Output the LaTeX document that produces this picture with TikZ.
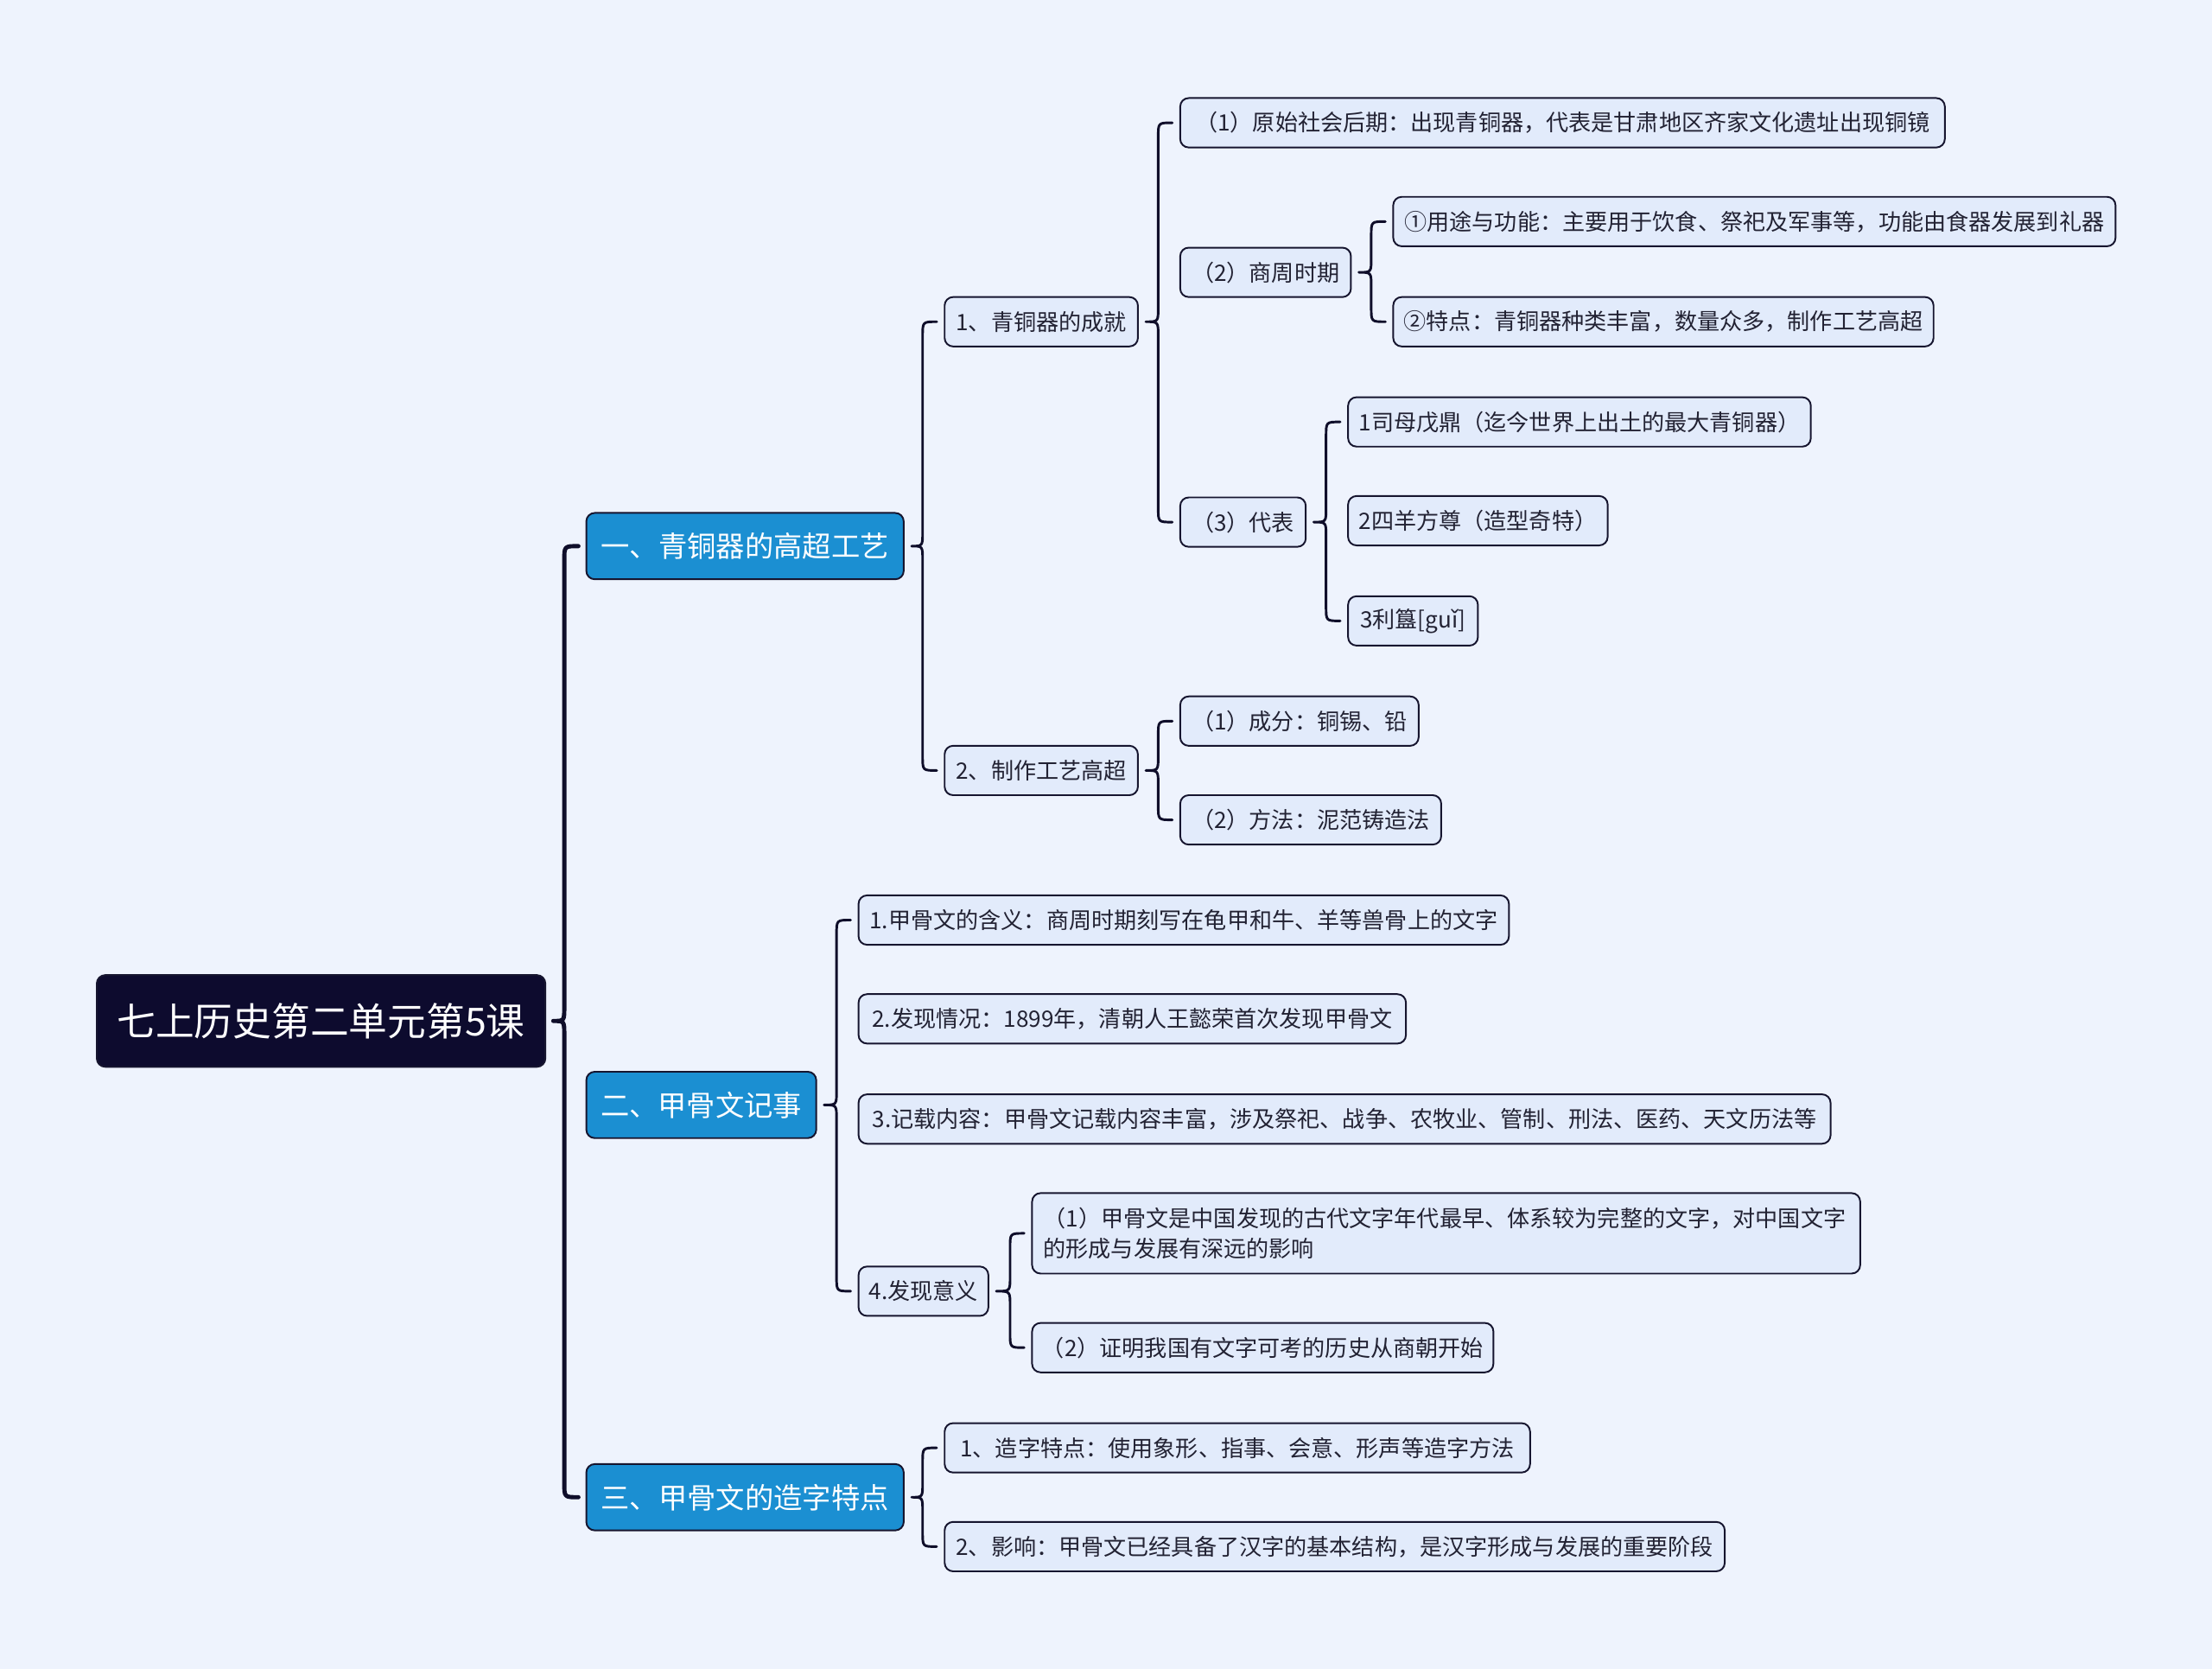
\documentclass[tikz,border=0pt]{standalone}
\usepackage{fontspec}
\newfontfamily\cjk{Noto Sans CJK SC}
\usetikzlibrary{calc}
\definecolor{bgc}{HTML}{EEF3FD}
\definecolor{leafc}{HTML}{E2EBFB}
\definecolor{bordc}{HTML}{16152F}
\definecolor{lvlc}{HTML}{1B8FD2}
\definecolor{rootc}{HTML}{0D0B2E}
\definecolor{linec}{HTML}{0F0E2A}
\definecolor{textc}{HTML}{222233}
\newcommand\mybrace[4][]{%
  \coordinate (bv) at ($(#3.west)+(-15,0)$);
  \coordinate (bm) at (bv |- #2.east);
  \coordinate (bb) at (bv |- #4.west);
  \draw[conn,#1] ($(#3.west)+(-5,0)$) .. controls (bv) .. ($(bv)+(0,10)$)
    -- ($(bm)+(0,-10)$) .. controls (bm) .. ($(#2.east)+(5,0)$)
    .. controls (bm) .. ($(bm)+(0,10)$)
    -- ($(bb)+(0,-10)$) .. controls (bb) .. ($(#4.west)+(-5,0)$);
}
\begin{document}
\begin{tikzpicture}[x=0.5pt,y=-0.5pt,
  box/.style={draw=bordc, line width=0.6pt, rounded corners=3pt, anchor=west, inner xsep=3pt, inner ysep=0pt},
  leaf/.style={box, fill=leafc, text=textc, font=\cjk\fontsize{8}{10.5}\selectfont, minimum height=17.5pt},
  lvl/.style={box, fill=lvlc, text=white, font=\cjk\fontsize{10.2}{12}\selectfont, minimum height=23.5pt},
  rootn/.style={box, fill=rootc, text=white, font=\cjk\fontsize{13.7}{16}\selectfont, minimum height=32.5pt},
  conn/.style={draw=linec, line width=0.9pt, line cap=round, line join=round},
]
\fill[bgc] (0,0) rectangle (1568,1182.7);
\useasboundingbox (0,0) rectangle (1568,1182.7);

% root and level 1
\node[rootn, minimum width=159pt] (root) at (68,723.5) {七上历史第二单元第5课};
\node[lvl, minimum width=112.5pt] (A) at (415,387) {一、青铜器的高超工艺};
\node[lvl, minimum width=81.5pt] (B) at (415,783) {二、甲骨文记事};
\node[lvl, minimum width=112.5pt] (C) at (415,1061) {三、甲骨文的造字特点};

% A branch
\node[leaf, minimum width=68.5pt] (A1) at (669,228) {1、青铜器的成就};
\node[leaf, minimum width=68.5pt] (A2) at (669,546) {2、制作工艺高超};
\node[leaf, minimum width=271pt] (A1a) at (836,87) {（1）原始社会后期：出现青铜器，代表是甘肃地区齐家文化遗址出现铜镜};
\node[leaf, minimum width=60.5pt] (A1b) at (836,193) {（2）商周时期};
\node[leaf, minimum width=44.5pt] (A1c) at (836,370) {（3）代表};
\node[leaf, minimum width=256pt] (A1b1) at (987,157) {①用途与功能：主要用于饮食、祭祀及军事等，功能由食器发展到礼器};
\node[leaf, minimum width=191.5pt] (A1b2) at (987,228) {②特点：青铜器种类丰富，数量众多，制作工艺高超};
\node[leaf, minimum width=164pt] (A1c1) at (955,299) {1司母戊鼎（迄今世界上出土的最大青铜器）};
\node[leaf, minimum width=92pt] (A1c2) at (955,369) {2四羊方尊（造型奇特）};
\node[leaf, minimum width=46pt] (A1c3) at (955,440) {3利簋[guǐ]};
\node[leaf, minimum width=84.5pt] (A2a) at (836,511) {（1）成分：铜锡、铅};
\node[leaf, minimum width=92.5pt] (A2b) at (836,581) {（2）方法：泥范铸造法};

% B branch
\node[leaf, minimum width=230.5pt] (B1) at (608,652) {1.甲骨文的含义：商周时期刻写在龟甲和牛、羊等兽骨上的文字};
\node[leaf, minimum width=194pt] (B2) at (608,722) {2.发现情况：1899年，清朝人王懿荣首次发现甲骨文};
\node[leaf, minimum width=344.5pt] (B3) at (608,793) {3.记载内容：甲骨文记载内容丰富，涉及祭祀、战争、农牧业、管制、刑法、医药、天文历法等};
\node[leaf, minimum width=46pt] (B4) at (608,915) {4.发现意义};
\node[leaf, text width=285.5pt, inner xsep=4pt, align=left, minimum height=28.5pt] (B4a) at (731,874) {（1）甲骨文是中国发现的古代文字年代最早、体系较为完整的文字，对中国文字\\的形成与发展有深远的影响};
\node[leaf, minimum width=163.5pt] (B4b) at (731,955) {（2）证明我国有文字可考的历史从商朝开始};

% C branch
\node[leaf, minimum width=207.5pt] (C1) at (669,1026) {1、造字特点：使用象形、指事、会意、形声等造字方法};
\node[leaf, minimum width=276.5pt] (C2) at (669,1096) {2、影响：甲骨文已经具备了汉字的基本结构，是汉字形成与发展的重要阶段};

% braces
\mybrace[line width=1.5pt]{root}{A}{C}
\mybrace{A}{A1}{A2}
\mybrace{A1}{A1a}{A1c}
\mybrace{A1b}{A1b1}{A1b2}
\mybrace{A1c}{A1c1}{A1c3}
\mybrace{A2}{A2a}{A2b}
\mybrace{B}{B1}{B4}
\mybrace{B4}{B4a}{B4b}
\mybrace{C}{C1}{C2}
\end{tikzpicture}
\end{document}
